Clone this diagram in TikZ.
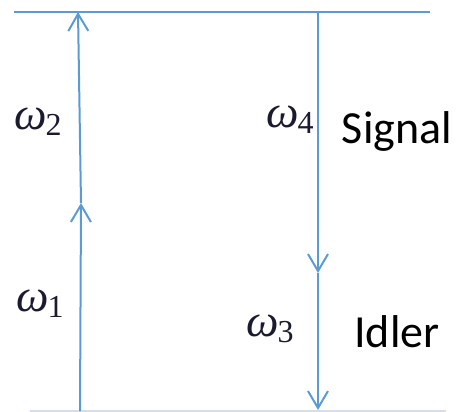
\documentclass[tikz,border=0pt]{standalone}
\usepackage{fontspec}
\setmainfont{Carlito}
\newfontfamily\omegafont{Liberation Serif}
\usetikzlibrary{arrows.meta}
\definecolor{lineblue}{HTML}{5B9BD5}
\definecolor{lightline}{HTML}{D6DFE8}
\definecolor{omegaink}{HTML}{1A1A30}
\newcommand{\freqlabel}[1]{{\omegafont\fontsize{46}{46}\selectfont\itshape ω}\kern-1pt\raisebox{-6pt}{\omegafont\fontsize{32}{32}\selectfont #1}}
\tikzset{
  level/.style={draw=lineblue, line width=1.5pt},
  ground/.style={draw=lightline, line width=2pt},
  trans/.style={draw=lineblue, line width=2pt, -{Straight Barb[length=17pt,width=20pt,line width=2pt]}},
  freq/.style={inner sep=0pt, text=omegaink},
  word/.style={inner sep=0pt, font=\fontsize{46}{46}\selectfont}
}
\begin{document}
\begin{tikzpicture}[x=1pt,y=-1pt]
\useasboundingbox (0,0) rectangle (458,412);
\coordinate (tl) at (14,12);
\coordinate (tr) at (430,12);
\coordinate (bl) at (30,411);
\coordinate (br) at (446,411);
\draw[level] (tl) -- (tr);
\draw[ground] (bl) -- (br);
\coordinate (a0) at (80,411);
\coordinate (a1) at (81,203);
\coordinate (a2) at (78,12);
\draw[trans] (a0) -- (a1);
\draw[trans] (a1) -- (a2);
\coordinate (b0) at (318,12);
\coordinate (b1) at (318,273);
\coordinate (b2) at (318,410);
\draw[trans] (b0) -- (b1);
\draw[trans] (b1) -- (b2);
\node[freq] (w2) at (38,122) {\freqlabel{2}};
\node[freq] (w1) at (40,304) {\freqlabel{1}};
\node[freq] (w4) at (290,120) {\freqlabel{4}};
\node[freq] (w3) at (270,329) {\freqlabel{3}};
\node[word] (sig) at (397,131) {Signal};
\node[word] (idl) at (397,332) {Idler};
\end{tikzpicture}
\end{document}
